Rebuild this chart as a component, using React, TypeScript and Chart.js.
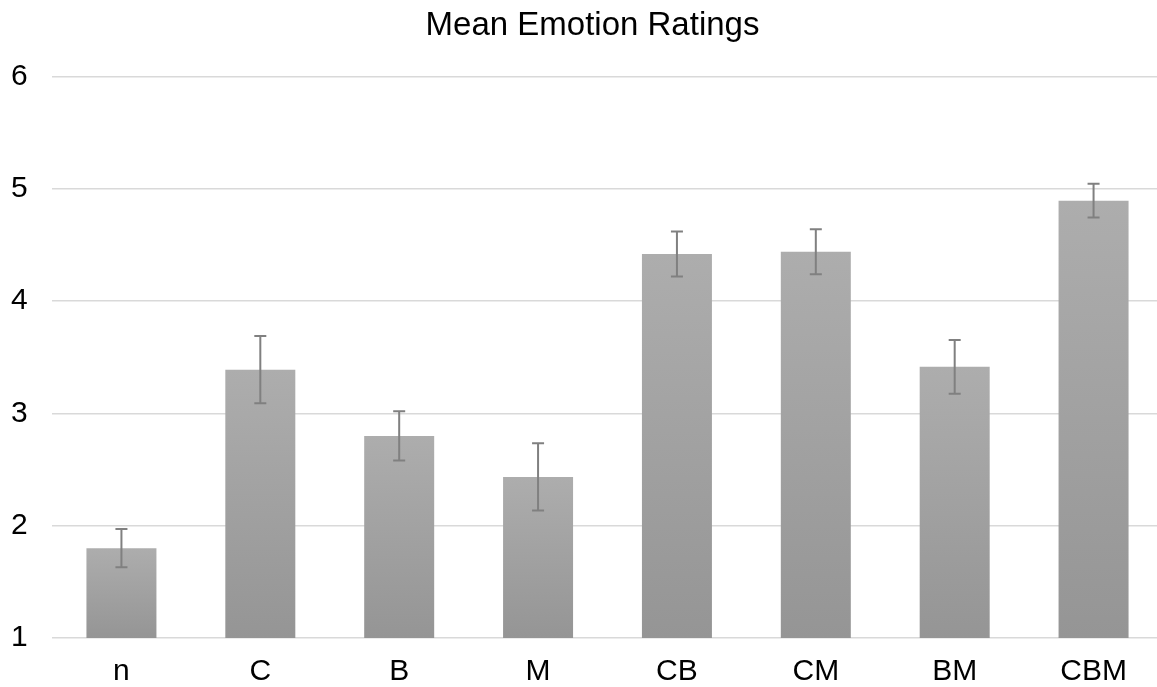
import React, { useEffect, useRef } from "react";
import { Chart, registerables } from "chart.js";

Chart.register(...registerables);

const categories = ["n", "C", "B", "M", "CB", "CM", "BM", "CBM"];
const means = [1.8, 3.39, 2.8, 2.435, 4.42, 4.44, 3.415, 4.895];
const errors = [0.17, 0.3, 0.22, 0.3, 0.2, 0.2, 0.24, 0.15];
const yTicks = [1, 2, 3, 4, 5, 6];
const titleText = "Mean Emotion Ratings";

const FONT = "'Liberation Sans', Arial, Helvetica, sans-serif";

const errorBarPlugin = {
  id: "errorBars",
  afterDatasetsDraw(chart: any) {
    const ctx = chart.ctx;
    const meta = chart.getDatasetMeta(0);
    const y = chart.scales.y;
    ctx.save();
    ctx.strokeStyle = "#808080";
    ctx.lineWidth = 2;
    meta.data.forEach((bar: any, i: number) => {
      const x = bar.x;
      const top = y.getPixelForValue(means[i] + errors[i]);
      const bot = y.getPixelForValue(means[i] - errors[i]);
      const cap = 6;
      ctx.beginPath();
      ctx.moveTo(x, top);
      ctx.lineTo(x, bot);
      ctx.moveTo(x - cap, top);
      ctx.lineTo(x + cap, top);
      ctx.moveTo(x - cap, bot);
      ctx.lineTo(x + cap, bot);
      ctx.stroke();
    });
    ctx.restore();
  },
};

export default function App() {
  const ref = useRef<HTMLCanvasElement | null>(null);

  useEffect(() => {
    if (!ref.current) return;
    const chart = new Chart(ref.current, {
      type: "bar",
      data: {
        labels: categories,
        datasets: [
          {
            data: means,
            backgroundColor: (context: any) => {
              const c = context.chart;
              const ys = c.scales && c.scales.y;
              if (!ys || context.dataIndex === undefined) return "#a3a3a3";
              const v = means[context.dataIndex];
              const top = ys.getPixelForValue(v);
              const base = ys.getPixelForValue(1);
              if (!isFinite(top) || !isFinite(base) || top === base) return "#a3a3a3";
              const g = c.ctx.createLinearGradient(0, top, 0, base);
              g.addColorStop(0, "#adadad");
              g.addColorStop(1, "#959595");
              return g;
            },
            borderWidth: 0,
            barPercentage: 0.504,
            categoryPercentage: 1,
          },
        ],
      },
      options: {
        animation: false,
        responsive: false,
        maintainAspectRatio: false,
        layout: { padding: { left: 22, right: 22, top: 0, bottom: 0 } },
        plugins: {
          legend: { display: false },
          tooltip: { enabled: false },
          title: {
            display: true,
            text: titleText,
            color: "#000000",
            font: { family: FONT, size: 33, weight: "normal" },
            padding: { top: 6, bottom: 31 },
          },
        },
        scales: {
          x: {
            grid: { display: false, drawTicks: false },
            border: { display: false },
            ticks: {
              color: "#000000",
              font: { family: FONT, size: 30 },
              padding: 16,
              maxRotation: 0,
            },
            afterFit: (s: any) => {
              s.height = 49;
            },
          },
          y: {
            min: 1,
            max: 6,
            afterBuildTicks: (s: any) => {
              s.ticks = yTicks.map((v) => ({ value: v }));
            },
            grid: { color: "#d9d9d9", lineWidth: 1.5, drawTicks: false },
            border: { display: false },
            ticks: {
              color: "#000000",
              font: { family: FONT, size: 30 },
              mirror: true,
              padding: -41,
            },
            afterFit: (s: any) => {
              s.width = 30;
            },
          },
        },
      },
      plugins: [errorBarPlugin],
    });
    return () => chart.destroy();
  }, []);

  return (
    <div
      style={{
        position: "fixed",
        left: 0,
        top: 0,
        width: 1157,
        height: 687,
        overflow: "hidden",
        background: "#ffffff",
      }}
    >
      <canvas ref={ref} width={1185} height={687} style={{ display: "block" }} />
    </div>
  );
}
